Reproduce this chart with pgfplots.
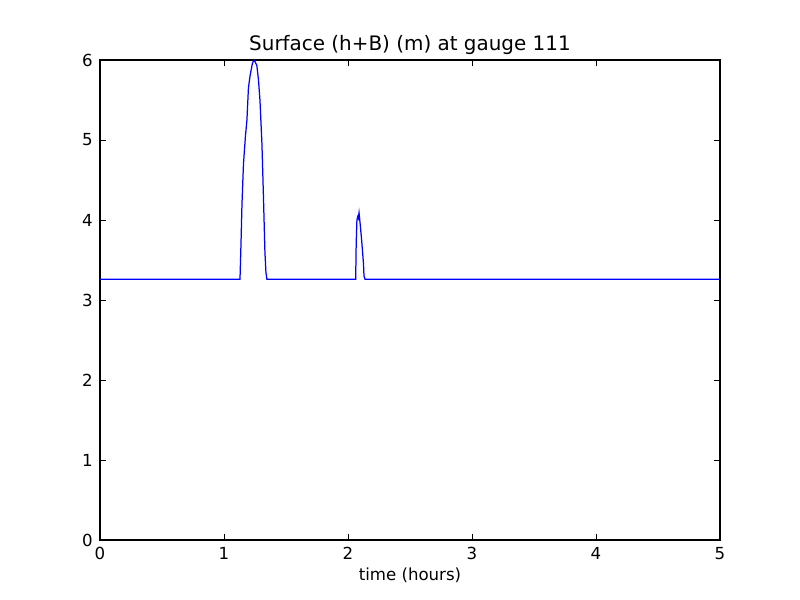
\documentclass[border=0pt]{standalone}
\usepackage{fontspec}
\setmainfont{DejaVu Sans}
\usepackage{pgfplots}
\pgfplotsset{compat=1.18}
\begin{document}
\fontsize{12pt}{14pt}\selectfont
\begin{tikzpicture}
\path[use as bounding box] (-1in,-0.6in) rectangle (7in,5.4in);
\begin{axis}[
  at={(0,0)}, anchor=south west,
  scale only axis, width=6.2in, height=4.8in,
  xmin=0, xmax=5, ymin=0, ymax=6,
  xtick={0,1,2,3,4,5}, ytick={0,1,2,3,4,5,6},
  tick align=inside,
  major tick length=4pt,
  tick style={black, line width=0.6pt},
  axis line style={black, line width=0.8pt},
  clip=false,
  /pgf/number format/assume math mode=true,
  ticklabel style={font=\fontsize{12pt}{14pt}\selectfont},
  xticklabel style={yshift=-1pt},
  yticklabel style={xshift=-1pt},
  title={\fontsize{14.4pt}{17pt}\selectfont Surface (h+B) (m) at gauge 111},
  title style={at={(0.5,1)}, anchor=base, yshift=1pt},
  xlabel={\fontsize{12pt}{14pt}\selectfont time (hours)},
  xlabel style={yshift=2pt},
]
\addplot[black, line width=1pt, dash pattern=on 5pt off 3pt] coordinates {(0,0) (5,0)};
\addplot[blue, line width=0.9pt] coordinates {
(0,3.26) (1.129,3.26) (1.137,3.7) (1.145,4.2) (1.157,4.7) (1.173,5.05)
(1.185,5.25) (1.197,5.65) (1.21,5.8) (1.228,5.95) (1.24,6.0) (1.25,5.98)
(1.265,5.93) (1.278,5.75) (1.29,5.5) (1.306,4.95) (1.318,4.3) (1.33,3.6)
(1.338,3.35) (1.346,3.26)
(2.062,3.26) (2.066,3.7) (2.072,4.0) (2.078,4.04) (2.083,4.02) (2.089,4.09)
(2.095,4.0) (2.11,3.75) (2.125,3.45) (2.129,3.3) (2.137,3.26)
(5,3.26)
};
\end{axis}
\end{tikzpicture}
\end{document}
